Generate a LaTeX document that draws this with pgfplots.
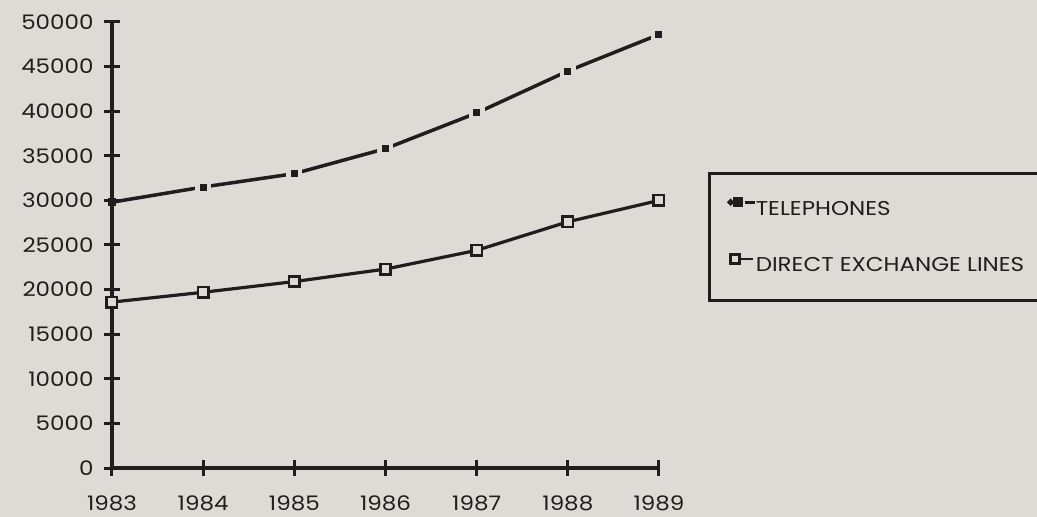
\documentclass[border=0pt]{standalone}
\usepackage{fontspec}
\setmainfont{Poppins}[FakeStretch=1.15]
\usepackage{pgfplots}
\pgfplotsset{compat=1.18}
\definecolor{bgc}{RGB}{220,219,214}
\definecolor{ink}{RGB}{30,30,30}
\begin{document}
\begin{tikzpicture}[x=1pt,y=1pt]
\fill[bgc] (0,0) rectangle (1037,517);
\useasboundingbox (0,0) rectangle (1037,517);
\begin{axis}[
  at={(112pt,49pt)}, anchor=south west,
  scale only axis, width=547pt, height=446pt,
  xmin=1983, xmax=1989, ymin=0, ymax=50000,
  axis x line=bottom, axis y line=left,
  axis line style={-, line width=3.2pt, ink},
  xtick={1983,1984,1985,1986,1987,1988,1989},
  ytick={0,5000,10000,15000,20000,25000,30000,35000,40000,45000,50000},
  tick align=center, major tick length=16pt,
  tick style={line width=3pt, ink},
  scaled y ticks=false,
  /pgf/number format/1000 sep={},
  /pgf/number format/assume math mode=true,
  tick label style={font=\fontsize{20}{23}\selectfont, text=ink},
  yticklabel style={xshift=-7pt},
  xticklabel style={yshift=-16pt},
  clip=false,
  legend cell align=left,
  legend style={at={(rel axis cs:1.0896,0.6637)}, anchor=north west,
    draw=ink, line width=3pt, fill=bgc, text=ink,
    inner xsep=18pt, inner ysep=24pt, row sep=33pt,
    font=\fontsize{20}{23}\selectfont,
    nodes={inner sep=0pt, text height=13pt, text depth=5pt},
    /tikz/every even column/.append style={column sep=6pt}},
]
\addplot[ink, line width=3.5pt, mark=square*, mark indices={2,3,4,5,6,7}, mark size=5.75pt,
  mark options={solid, fill=ink, draw=bgc, line width=4.5pt},
  legend image code/.code={
    \fill[ink] (0pt,9pt) circle (1.3pt);
    \fill[ink] (4pt,5.5pt) rectangle (10.5pt,12pt);
    \draw[ink, line width=2.5pt] (14pt,8.75pt) -- (24pt,8.75pt);
  }]
  coordinates {(1983,29800) (1984,31500) (1985,33000) (1986,35800) (1987,39800) (1988,44500) (1989,48600)};
\addlegendentry{TELEPHONES}
\addplot[ink, line width=3.2pt, mark=square*, mark size=5.2pt,
  mark options={solid, fill=bgc, draw=ink, line width=2.6pt},
  legend image code/.code={
    \draw[ink, line width=2.5pt] (5pt,9pt) -- (22pt,9pt);
    \draw[ink, line width=2.5pt, fill=bgc] (0pt,4.5pt) rectangle (9pt,13.5pt);
  }]
  coordinates {(1983,18600) (1984,19700) (1985,20900) (1986,22300) (1987,24400) (1988,27600) (1989,30000)};
\addlegendentry{DIRECT EXCHANGE LINES\hspace*{40pt}}
\addplot[only marks, mark=square*, mark size=3.5pt, ink, forget plot]
  coordinates {(1983,29800)};
\end{axis}
\end{tikzpicture}
\end{document}
